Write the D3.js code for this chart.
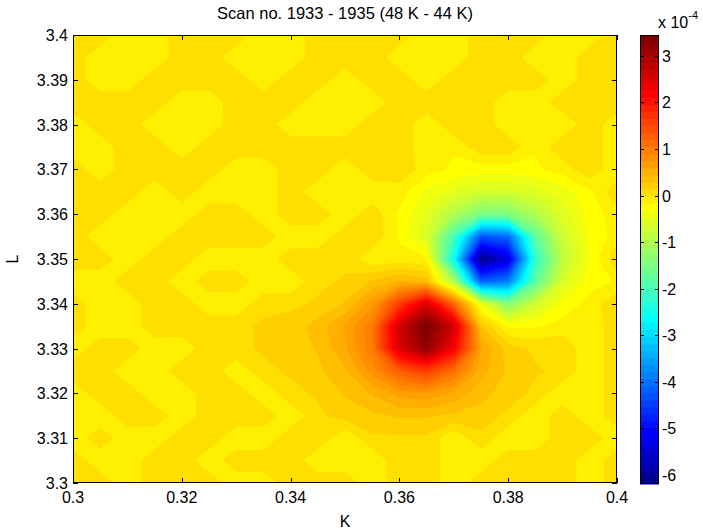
<!DOCTYPE html>
<html>
<head>
<meta charset="utf-8">
<script src="https://cdn.jsdelivr.net/npm/d3@7/dist/d3.min.js"></script>
<style>
  body { margin: 0; background: #fff; }
  text { font-family: "Liberation Sans", Arial, Helvetica, sans-serif; fill: #000; }
</style>
</head>
<body>
<svg id="chart" width="703" height="532"></svg>
<script>
// grid positions (K across, L down from the top row)
var kValues = [0.300, 0.305, 0.310, 0.315, 0.320, 0.325, 0.330, 0.335, 0.340, 0.345, 0.350,
               0.355, 0.360, 0.365, 0.370, 0.375, 0.380, 0.385, 0.390, 0.395, 0.400];
var lValues = [3.400, 3.395, 3.390, 3.385, 3.380, 3.375, 3.370, 3.365, 3.360, 3.355, 3.350,
               3.345, 3.340, 3.335, 3.330, 3.325, 3.320, 3.315, 3.310, 3.305, 3.300];

// difference signal, units of 1e-4, one row per L value (top row = 3.400)
var zRows = [
  [.1,.1,-.15,-.15,.1,.1,.1,-.15,-.15,.1,.1,.1,.1,-.15,-.15,.1,.1,.1,-.15,-.15,.1],
  [.1,-.15,-.15,-.15,.1,.1,-.15,-.15,-.15,.1,.1,.1,-.15,-.15,-.15,.1,.1,-.15,-.15,.1,.1],
  [.1,-.15,-.15,.1,.1,.1,.1,-.15,.1,.1,-.15,.1,.1,-.15,.1,.1,.1,.1,-.15,.1,.1],
  [.1,.1,.1,.1,-.15,-.15,.1,.1,.1,-.15,-.15,-.15,.1,.1,.1,.1,-.15,-.15,.1,.1,.1],
  [-.15,.1,.1,-.15,-.15,-.15,.1,.1,-.15,-.15,-.15,.1,.1,-.15,.1,.1,-.15,-.15,-.15,.1,-.15],
  [-.15,-.15,.1,.1,-.15,.1,.1,.1,.1,.1,.1,.1,.1,-.15,-.15,.1,.1,-.15,.1,.1,-.15],
  [.1,-.15,.1,.1,.1,.1,-.15,-.15,.1,.1,-.15,.1,.1,-.1,-.2,-.25,-.25,-.2,-.1,.1,-.15],
  [.1,.1,.1,-.15,.1,-.15,-.15,-.15,.1,-.15,-.15,-.15,-.1,-.35,-.5,-.65,-.65,-.55,-.4,-.2,.1],
  [.1,.1,-.15,-.15,-.15,.1,.1,-.15,.1,.1,-.15,.1,-.2,-.5,-1.0,-1.5,-1.45,-1.0,-.55,-.25,-.1],
  [.1,-.15,-.15,-.15,.1,.1,.1,.1,-.15,-.15,.1,.1,-.2,-.6,-2.0,-4.3,-4.1,-1.8,-.7,-.3,-.1],
  [.1,.1,-.15,.1,.1,-.15,-.15,-.15,.1,.1,.1,-.15,-.1,-.15,-2.6,-6.2,-5.4,-2.2,-.85,-.3,.1],
  [-.15,-.15,.1,.1,-.15,.1,.1,-.15,-.15,.1,.15,.3,.45,.35,-1.0,-4.2,-3.9,-1.8,-.6,-.25,-.15],
  [.1,-.15,-.15,.1,.1,-.15,-.15,.1,.1,.15,.3,.7,1.6,2.5,1.2,-.4,-1.4,-.7,-.3,-.1,.1],
  [.1,-.15,-.15,.1,.1,.1,.1,.15,.2,.35,.6,1.0,2.6,3.45,2.6,.3,-.2,-.2,-.1,-.15,.1],
  [-.15,.1,.1,-.15,-.15,.1,.1,.15,.2,.3,.55,1.0,2.5,3.2,2.2,.6,.2,.1,.1,-.15,.1],
  [.1,.1,-.15,-.15,.1,.1,-.15,.1,.15,.25,.4,.8,1.3,1.6,1.1,.5,.25,.15,.1,-.15,.1],
  [-.15,.1,.1,-.15,-.15,.1,.1,-.15,.1,.15,.3,.45,.65,.7,.55,.35,.2,.1,-.15,-.15,.1],
  [-.15,-.15,.1,.1,-.15,.1,.1,.1,-.15,.1,.2,.25,.3,.3,.25,.2,.1,-.15,.1,-.15,.1],
  [-.15,.1,-.15,-.15,.1,.1,-.15,-.15,.1,.1,-.15,.1,.1,.1,-.15,.1,-.15,-.15,.1,.1,-.15],
  [.1,-.15,-.15,.1,.1,-.15,.1,.1,.1,-.15,-.15,-.15,.1,.1,-.15,-.15,.1,.1,.1,-.15,.1],
  [.1,.1,-.15,.1,.1,.1,-.15,-.15,.1,.1,.1,-.15,.1,.1,-.15,.1,.1,.1,.1,-.15,.1]
];

var kTicks = [0.3, 0.32, 0.34, 0.36, 0.38, 0.4];
var lTicks = [3.3, 3.31, 3.32, 3.33, 3.34, 3.35, 3.36, 3.37, 3.38, 3.39, 3.4];
var cbTicks = [-6, -5, -4, -3, -2, -1, 0, 1, 2, 3];
var titleText = "Scan no. 1933 - 1935 (48 K - 44 K)";

var plot = {left: 73, right: 617, top: 35, bottom: 483};
var cbar = {left: 640, right: 659, top: 35, bottom: 484};
var nColors = 64;

// matlab jet(64)
function jet(i) { // i = 1..64
    var m = 16, u = [], k;
    for (k = 1; k <= m; k++) u.push(k / m);
    for (k = 1; k < m; k++) u.push(1);
    for (k = m; k >= 1; k--) u.push(k / m);
    function pick(j) { return (j >= 1 && j <= u.length) ? u[j - 1] : 0; }
    var r = pick(i - 24), g = pick(i - 8), b = pick(i + 8);
    return d3.rgb(r * 255, g * 255, b * 255).toString();
}

var svg = d3.select("#chart");

var x = d3.scaleLinear().domain([0.3, 0.4]).range([plot.left, plot.right]);
var y = d3.scaleLinear().domain([3.3, 3.4]).range([plot.bottom, plot.top]);

var nx = kValues.length, ny = lValues.length;
var flat = [];
zRows.forEach(function(row) { flat = flat.concat(row); });
var zExt = d3.extent(flat);
var step = (zExt[1] - zExt[0]) / nColors;
var thresholds = d3.range(1, nColors).map(function(i) { return zExt[0] + i * step; });

var dK = kValues[1] - kValues[0], dL = lValues[1] - lValues[0];
var gridToPx = d3.geoTransform({
    point: function(gx, gy) {
        this.stream.point(x(kValues[0] + (gx - 0.5) * dK), y(lValues[0] + (gy - 0.5) * dL));
    }
});
var path = d3.geoPath(gridToPx);

svg.append("clipPath").attr("id", "plotclip")
    .append("rect")
    .attr("x", plot.left).attr("y", plot.top)
    .attr("width", plot.right - plot.left).attr("height", plot.bottom - plot.top);

var map = svg.append("g").attr("clip-path", "url(#plotclip)");
map.append("rect")
    .attr("x", plot.left).attr("y", plot.top)
    .attr("width", plot.right - plot.left).attr("height", plot.bottom - plot.top)
    .attr("fill", jet(1));

var contours = d3.contours().size([nx, ny]).smooth(true).thresholds(thresholds)(flat);
map.selectAll("path.band")
    .data(contours)
    .enter().append("path")
    .attr("class", "band")
    .attr("d", path)
    .attr("fill", function(d, i) { return jet(i + 2); })
    .attr("stroke", function(d, i) { return jet(i + 2); })
    .attr("stroke-width", 0.4);

// axes box and inward ticks
var tickLen = 5;
var fs = 16;
var axes = svg.append("g");
axes.append("rect")
    .attr("x", plot.left + 0.5).attr("y", plot.top + 0.5)
    .attr("width", plot.right - plot.left - 1).attr("height", plot.bottom - plot.top - 1)
    .attr("fill", "none").attr("stroke", "#000").attr("stroke-width", 1);

kTicks.forEach(function(k) {
    var px = Math.round(x(k)) + 0.5;
    axes.append("line").attr("x1", px).attr("x2", px)
        .attr("y1", plot.bottom).attr("y2", plot.bottom - tickLen).attr("stroke", "#000");
    axes.append("line").attr("x1", px).attr("x2", px)
        .attr("y1", plot.top).attr("y2", plot.top + tickLen).attr("stroke", "#000");
    axes.append("text").attr("x", x(k)).attr("y", plot.bottom + 20)
        .attr("text-anchor", "middle").attr("font-size", fs)
        .text(d3.format("")(k));
});
lTicks.forEach(function(l) {
    var py = Math.round(y(l)) + 0.5;
    axes.append("line").attr("x1", plot.left).attr("x2", plot.left + tickLen)
        .attr("y1", py).attr("y2", py).attr("stroke", "#000");
    axes.append("line").attr("x1", plot.right).attr("x2", plot.right - tickLen)
        .attr("y1", py).attr("y2", py).attr("stroke", "#000");
    axes.append("text").attr("x", plot.left - 5).attr("y", y(l) + 6)
        .attr("text-anchor", "end").attr("font-size", fs)
        .text(d3.format("")(l));
});

svg.append("text").attr("x", (plot.left + plot.right) / 2).attr("y", 527)
    .attr("text-anchor", "middle").attr("font-size", fs).text("K");
svg.append("text")
    .attr("transform", "translate(18," + ((plot.top + plot.bottom) / 2) + ") rotate(-90)")
    .attr("text-anchor", "middle").attr("font-size", fs).text("L");
svg.append("text").attr("x", (plot.left + plot.right) / 2).attr("y", 19)
    .attr("text-anchor", "middle").attr("font-size", 16.5).text(titleText);

// colorbar
var cy = d3.scaleLinear().domain(zExt).range([cbar.bottom, cbar.top]);
var cb = svg.append("g");
cb.selectAll("rect.level")
    .data(d3.range(nColors))
    .enter().append("rect")
    .attr("class", "level")
    .attr("x", cbar.left).attr("width", cbar.right - cbar.left)
    .attr("y", function(i) { return cy(zExt[0] + (i + 1) * step); })
    .attr("height", function(i) { return cy(zExt[0] + i * step) - cy(zExt[0] + (i + 1) * step) + 0.5; })
    .attr("fill", function(i) { return jet(i + 1); });
cb.append("rect")
    .attr("x", cbar.left + 0.5).attr("y", cbar.top + 0.5)
    .attr("width", cbar.right - cbar.left - 1).attr("height", cbar.bottom - cbar.top - 1)
    .attr("fill", "none").attr("stroke", "#000");
cbTicks.forEach(function(t) {
    var py = Math.round(cy(t)) + 0.5;
    cb.append("line").attr("x1", cbar.left).attr("x2", cbar.left + 4)
        .attr("y1", py).attr("y2", py).attr("stroke", "#000");
    cb.append("line").attr("x1", cbar.right).attr("x2", cbar.right - 4)
        .attr("y1", py).attr("y2", py).attr("stroke", "#000");
    cb.append("text").attr("x", cbar.right + 3).attr("y", cy(t) + 6)
        .attr("font-size", fs).text(t);
});
var expo = cb.append("text").attr("x", 658).attr("y", 28).attr("font-size", fs);
expo.append("tspan").text("x 10");
expo.append("tspan").attr("dy", -9).attr("font-size", 11).text("-4");
</script>
</body>
</html>
